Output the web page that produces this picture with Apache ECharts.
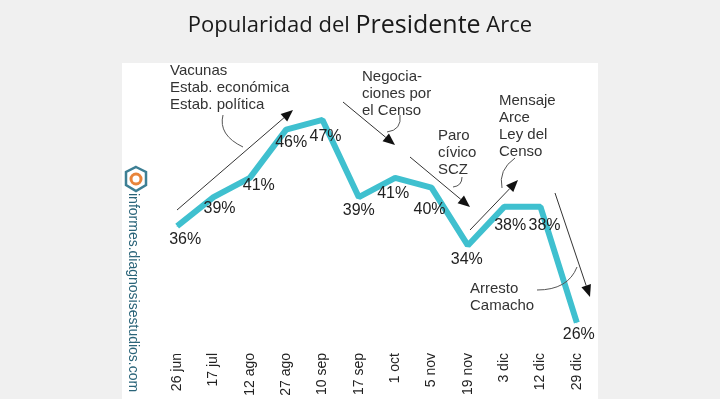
<!DOCTYPE html>
<html>
<head>
<meta charset="utf-8">
<script src="https://cdn.jsdelivr.net/npm/echarts@6/dist/echarts.min.js"></script>
<style>
  html, body { margin: 0; padding: 0; background: #f0f0f0; }
  #chart-container { width: 720px; height: 399px; }
</style>
</head>
<body>
<div id="chart-container"></div>
<script>
// data
const categories = ["26 jun", "17 jul", "12 ago", "27 ago", "10 sep", "17 sep", "1 oct", "5 nov", "19 nov", "3 dic", "12 dic", "29 dic"];
const popularity = [36, 39, 41, 46, 47, 39, 41, 40, 34, 38, 38, 26];
// where each % label sits relative to its point (px)
const labelOffsets = [[8, 13], [6, 11], [9, 8], [5, 13], [3, 17], [0, 13], [-2, 16], [-2, 22], [-1, 14], [6, 19], [4, 19], [2, 12]];

const annotations = [
  { text: "Vacunas\nEstab. económica\nEstab. política", x: 170, y: 62 },
  { text: "Negocia-\nciones por\nel Censo", x: 362, y: 68 },
  { text: "Paro\ncívico\nSCZ", x: 438, y: 127 },
  { text: "Mensaje\nArce\nLey del\nCenso", x: 499, y: 92 },
  { text: "Arresto\nCamacho", x: 470, y: 280 },
];
// arrows: [x1, y1, x2, y2] with the head at x2,y2
const arrows = [
  [177, 210, 293, 110],
  [343, 102, 395, 145],
  [410, 157, 470, 207],
  [470, 230, 518, 180],
  [555, 193, 590, 297],
];
// little callout curves from text to arrow
const callouts = [
  [[223, 115], [218, 135], [243, 147]],
  [[400, 115], [402, 130], [387, 132]],
  [[462, 177], [462, 186], [453, 187]],
  [[515, 158], [498, 170], [502, 188]],
  [[537, 290], [568, 290], [577, 267]],
];

const lineColor = "#3fc0cf";
const inkColor = "#333333";

const dom = document.getElementById("chart-container");
const myChart = echarts.init(dom, null, { renderer: "canvas" });

const graphics = [
  {
    type: "rect",
    shape: { x: 122, y: 63, width: 476, height: 336 },
    style: { fill: "#ffffff" },
    z: -10,
  },
];

annotations.forEach((a) => {
  graphics.push({
    type: "text",
    x: a.x,
    y: a.y,
    style: {
      text: a.text,
      font: "15px 'Liberation Sans', Arial, sans-serif",
      fill: inkColor,
      lineHeight: 17,
      textVerticalAlign: "top",
    },
    z: 10,
  });
});

arrows.forEach((ar) => {
  const [x1, y1, x2, y2] = ar;
  const ang = Math.atan2(y2 - y1, x2 - x1);
  const len = 12, half = 5;
  const bx = x2 - len * Math.cos(ang), by = y2 - len * Math.sin(ang);
  graphics.push({
    type: "line",
    shape: { x1: x1, y1: y1, x2: bx, y2: by },
    style: { stroke: inkColor, lineWidth: 1 },
    z: 10,
  });
  graphics.push({
    type: "polygon",
    shape: {
      points: [
        [x2, y2],
        [bx + half * Math.sin(ang), by - half * Math.cos(ang)],
        [bx - half * Math.sin(ang), by + half * Math.cos(ang)],
      ],
    },
    style: { fill: "#111111" },
    z: 10,
  });
});

callouts.forEach((c) => {
  graphics.push({
    type: "bezierCurve",
    shape: { x1: c[0][0], y1: c[0][1], cpx1: c[1][0], cpy1: c[1][1], x2: c[2][0], y2: c[2][1] },
    style: { stroke: "#555555", lineWidth: 1, fill: null },
    z: 10,
  });
});

// watermark + logo
graphics.push({
  type: "text",
  x: 133,
  y: 193,
  rotation: -Math.PI / 2,
  style: {
    text: "informes.diagnosisestudios.com",
    font: "14px 'Liberation Sans', Arial, sans-serif",
    fill: "#2a6479",
    textAlign: "left",
    textVerticalAlign: "middle",
  },
  z: 5,
});
graphics.push({
  type: "polygon",
  shape: { points: [[136, 167], [146, 172], [146, 185], [136, 191], [126, 185], [126, 172]] },
  style: { fill: null, stroke: "#3d7f94", lineWidth: 2.5 },
  z: 5,
});
graphics.push({
  type: "circle",
  shape: { cx: 136, cy: 179, r: 5 },
  style: { fill: null, stroke: "#e8843a", lineWidth: 3 },
  z: 5,
});

const option = {
  backgroundColor: "#f0f0f0",
  title: {
    text: "{a|Popularidad del }{b|Presidente}{a| Arce}",
    left: "center",
    top: 8,
    textStyle: {
      fontWeight: "normal",
      rich: {
        a: { fontSize: 22, fontWeight: "normal", color: "#1a1a1a", fontFamily: "'Open Sans', sans-serif" },
        b: { fontSize: 25, fontWeight: "normal", color: "#1a1a1a", fontFamily: "'Open Sans', sans-serif" },
      },
    },
  },
  grid: { left: 159, right: 125, top: 91, bottom: 57 },
  xAxis: {
    type: "category",
    data: categories,
    boundaryGap: true,
    axisLine: { show: false },
    axisTick: { show: false },
    axisLabel: {
      rotate: 90,
      margin: 11,
      fontSize: 14,
      color: "#222222",
      fontFamily: "'Liberation Sans', Arial, sans-serif",
      interval: 0,
    },
  },
  yAxis: {
    type: "value",
    min: 24,
    max: 50,
    show: false,
    splitLine: { show: false },
  },
  series: [
    {
      type: "line",
      data: popularity.map((v, i) => ({
        value: v,
        label: { offset: labelOffsets[i] },
      })),
      symbol: "circle",
      symbolSize: 1,
      itemStyle: { color: lineColor },
      lineStyle: { color: lineColor, width: 6 },
      label: {
        show: true,
        position: "inside",
        formatter: "{c}%",
        fontSize: 16,
        color: "#222222",
        fontFamily: "'Liberation Sans', Arial, sans-serif",
      },
      z: 3,
    },
  ],
  graphic: graphics,
};

myChart.setOption(option);

window.addEventListener("resize", () => {
  myChart.resize();
});
</script>
</body>
</html>
